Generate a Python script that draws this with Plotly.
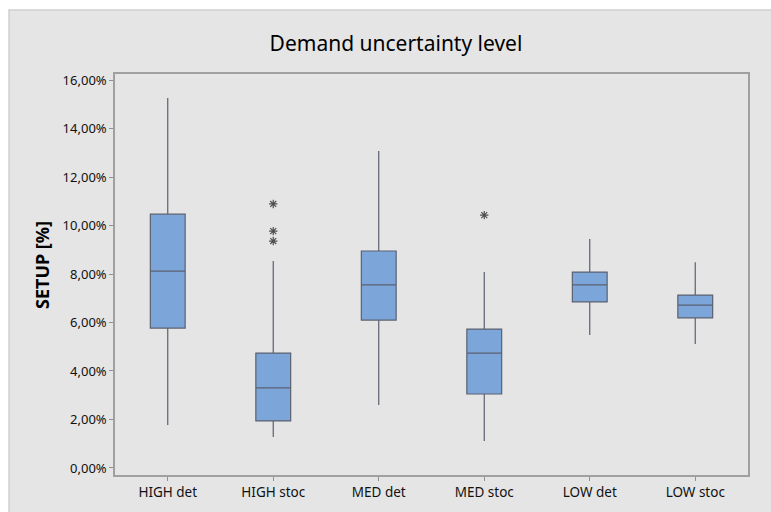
import plotly.graph_objects as go

# Scenario groups and SETUP box statistics (%)
categories = ["HIGH det", "HIGH stoc", "MED det", "MED stoc", "LOW det", "LOW stoc"]
lower_whisker = [1.77, 1.28, 2.60, 1.11, 5.48, 5.11]
q1 = [5.77, 1.94, 6.10, 3.05, 6.85, 6.19]
median = [8.12, 3.30, 7.55, 4.74, 7.55, 6.72]
q3 = [10.47, 4.74, 8.95, 5.73, 8.08, 7.13]
upper_whisker = [15.26, 8.54, 13.07, 8.08, 9.44, 8.49]

# Outlying observations
outlier_x = ["HIGH stoc", "HIGH stoc", "HIGH stoc", "MED stoc"]
outlier_y = [10.89, 9.77, 9.36, 10.43]

y_ticks = [0, 2, 4, 6, 8, 10, 12, 14, 16]
y_tick_text = [f"{v:.2f}".replace(".", ",") + "%" for v in y_ticks]

W, H = 771, 512
L, R, T, B = 115, 748, 74, 475

def px_x(p):
    return (p - L) / (R - L)

def px_y(p):
    return (B - p) / (B - T)

fig = go.Figure()

fig.add_trace(go.Box(
    x=categories,
    q1=q1, median=median, q3=q3,
    lowerfence=lower_whisker, upperfence=upper_whisker,
    width=0.33,
    whiskerwidth=0,
    fillcolor="#7ca6d9",
    line=dict(color="#5b6170", width=1.2),
    boxpoints=False,
    showlegend=False,
    hoverinfo="skip",
))

fig.add_trace(go.Scatter(
    x=outlier_x, y=outlier_y,
    mode="markers",
    marker=dict(symbol="asterisk-open", size=7, color="#505050",
                line=dict(color="#505050", width=1.2)),
    showlegend=False,
    hoverinfo="skip",
))

font_family = "Noto Sans, Open Sans, sans-serif"

fig.update_layout(
    width=W, height=H,
    margin=dict(l=L, r=W - R, t=T, b=H - B, pad=0),
    paper_bgcolor="white",
    plot_bgcolor="white",
    font=dict(family=font_family, color="#111111", size=13),
    title=dict(text="Demand uncertainty level", x=396 / W, xanchor="center",
               y=1 - 44 / H, yanchor="middle", yref="container",
               font=dict(size=21, color="#000000", family=font_family)),
    xaxis=dict(
        type="category",
        categoryorder="array", categoryarray=categories,
        range=[-0.5, 5.5],
        showgrid=False, zeroline=False,
        showline=True, linecolor="#a0a0a0", linewidth=1.5, mirror=True,
        ticks="outside", ticklen=4, tickcolor="#909090",
        tickfont=dict(size=13.5, color="#111111"),
    ),
    yaxis=dict(
        range=[-0.29, 16.25],
        tickvals=y_ticks, ticktext=y_tick_text,
        showgrid=False, zeroline=False,
        showline=True, linecolor="#a0a0a0", linewidth=1.5, mirror=True,
        ticks="outside", ticklen=4, tickcolor="#909090",
        tickfont=dict(size=13, color="#111111"),
    ),
    shapes=[
        dict(type="rect", xref="paper", yref="paper", layer="below",
             x0=px_x(9), x1=px_x(W + 2), y0=px_y(H + 2), y1=px_y(10),
             fillcolor="#e5e5e5", line=dict(color="#cfcfcf", width=1.5)),
    ],
    annotations=[
        dict(text="<b>SETUP [%]</b>", xref="paper", yref="paper",
             x=px_x(42), y=px_y(265), xanchor="center", yanchor="middle",
             textangle=-90, showarrow=False,
             font=dict(size=18, color="#000000", family=font_family)),
    ],
)

fig.write_html("out.html")
